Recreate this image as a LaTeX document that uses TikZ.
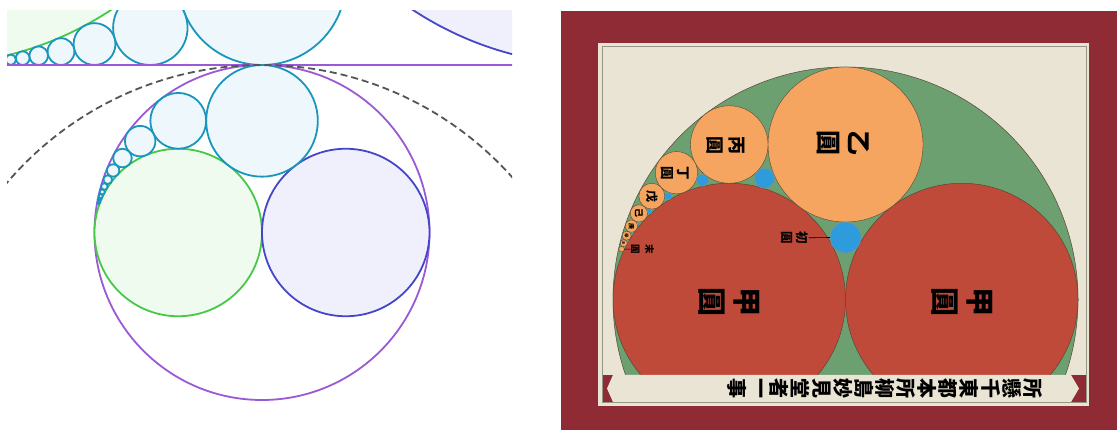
\documentclass[tikz,border=0pt]{standalone}
\usepackage{fontspec}
\newfontfamily\cjk{Noto Sans CJK JP}
\definecolor{lpur}{RGB}{155,89,214}
\definecolor{lgreen}{RGB}{72,200,72}
\definecolor{lgreenf}{RGB}{240,251,240}
\definecolor{lind}{RGB}{70,70,200}
\definecolor{lindf}{RGB}{240,240,252}
\definecolor{lteal}{RGB}{24,150,190}
\definecolor{ltealf}{RGB}{238,247,251}
\definecolor{ldash}{RGB}{85,85,85}
\definecolor{sframe}{RGB}{143,43,52}
\definecolor{sbeige}{RGB}{234,228,212}
\definecolor{sgrayl}{RGB}{150,150,135}
\definecolor{sgreen}{RGB}{108,160,112}
\definecolor{sred}{RGB}{191,74,58}
\definecolor{sorange}{RGB}{245,165,95}
\definecolor{sblue}{RGB}{46,155,220}
\definecolor{sedge}{RGB}{90,70,54}
\tikzset{
  pur/.style={draw=lpur, line width=1.8pt},
  grn/.style={draw=lgreen, fill=lgreenf, line width=1.8pt},
  ind/.style={draw=lind, fill=lindf, line width=1.8pt},
  chn/.style={draw=lteal, fill=ltealf, line width=1.8pt},
  invc/.style={draw=ldash, dash pattern=on 7pt off 4pt, line width=1.8pt},
  sg/.style={fill=sgreen, draw=sedge, line width=0.5pt},
  sr/.style={fill=sred, draw=sedge, line width=0.5pt},
  so/.style={fill=sorange, draw=sedge, line width=0.4pt},
  sb/.style={fill=sblue, draw=sedge!60, line width=0.3pt},
  cjl/.style 2 args={rotate=-90, align=center, inner sep=0pt, text=black,
    font={\cjk\bfseries\fontsize{#1}{#2}\selectfont}},
  leader/.style={draw=black, line width=0.6pt}
}
\begin{document}
\begin{tikzpicture}[x=1pt,y=1pt]
\useasboundingbox (0,0) rectangle (1117,-430);
\fill[white] (0,0) rectangle (1117,-430);
% ================= left panel =================
\begin{scope}
\clip (7,-11) rectangle (512,-425);
\begin{scope}[shift={(262pt,-232.5pt)}, x=167.5pt, y=167.5pt]
  \filldraw[grn] (-2,3) circle[radius=2];
  \filldraw[ind] (2,3) circle[radius=2];
  \foreach \n in {1,...,14}{
    \pgfmathsetmacro\cx{2*(1-\n)/(\n+1)}
    \pgfmathsetmacro\rr{2/((\n+1)*(\n+1))}
    \pgfmathsetmacro\cy{1+\rr}
    \filldraw[chn] (\cx,\cy) circle[radius=\rr];
  }
  \draw[pur] (-2,1) -- (2,1);
  \draw[pur] (0,0) circle[radius=1];
  \filldraw[grn] (-0.5,0) circle[radius=0.5];
  \filldraw[ind] (0.5,0) circle[radius=0.5];
  \foreach \n in {1,...,11}{
    \pgfmathsetmacro\rr{1/(\n*\n+2)}
    \pgfmathsetmacro\cx{(1-\n*\n)*\rr}
    \pgfmathsetmacro\cy{2*\n*\rr}
    \filldraw[chn] (\cx,\cy) circle[radius=\rr];
  }
  \draw[invc] (0,-1) circle[radius=2];
\end{scope}
\end{scope}
% ================= right panel =================
\fill[sframe] (561,-11) rectangle (1117,-430);
\fill[sbeige] (598.4,-42.7) rectangle (1089.3,-406);
\begin{scope}
\clip (602.6,-46.7) rectangle (1086.5,-402);
\begin{scope}[shift={(845.5pt,-299.5pt)}, x=232.5pt, y=232.5pt]
  \filldraw[sg] (0,0) circle[radius=1];
  \filldraw[sr] (-0.5,0) circle[radius=0.5];
  \filldraw[sr] (0.5,0) circle[radius=0.5];
  \foreach \n in {1,...,9}{
    \pgfmathsetmacro\rr{1/(\n*\n+2)}
    \pgfmathsetmacro\cx{(1-\n*\n)*\rr}
    \pgfmathsetmacro\cy{2*\n*\rr}
    \filldraw[so] (\cx,\cy) circle[radius=\rr];
  }
  \foreach \n in {0,...,8}{
    \pgfmathsetmacro\ff{2/(3.5+(\n+0.5)*(\n+0.5))}
    \pgfmathsetmacro\rr{0.125*\ff}
    \pgfmathsetmacro\cx{1.875*\ff-1}
    \pgfmathsetmacro\cy{(\n+0.5)*\ff}
    \filldraw[sb] (\cx,\cy) circle[radius=\rr];
  }
  \coordinate (c0w) at (-1/15,4/15);
  \coordinate (lastE) at (-79/83,18/83);
\end{scope}
\end{scope}
% banner
\fill[sframe] (602.6,-375) rectangle (1086.5,-402);
\fill[sbeige] (613,-375) -- (1071,-375) -- (1079,-388.5) -- (1071,-402)
  -- (613,-402) -- (607,-388.5) -- cycle;
\draw[sgrayl, line width=0.8pt] (602.6,-46.7) rectangle (1086.5,-402);
\foreach \c [count=\i] in {所,懸,千,東,都,本,所,柳,島,妙,見,堂,者,一,事}
  \node[cjl={20}{20}] (t\i) at ({1033-(\i-1)*21.15},-388.3) {\c};
% labels
\node[cjl={29}{35}] (la) at (729,-302) {甲\\圓};
\node[cjl={29}{35}] (lb) at (962,-302) {甲\\圓};
\node[cjl={25}{30}] (lc) at (843.5,-143) {乙\\圓};
\node[cjl={18}{22}] (ld) at (726,-146) {丙\\圓};
\node[cjl={13.5}{16}] (le) at (675,-173) {丁\\圓};
\node[cjl={12}{12}] (lf) at (651.7,-196.2) {戊};
\node[cjl={9}{9}] (lg) at (638.8,-213.4) {己};
\node[cjl={6}{6}] (lh) at (631.4,-226.1) {庚};
\node[cjl={4.5}{4.5}] (li) at (626.7,-235.7) {辛};
\node[cjl={3.2}{3.2}] (lj) at (623.6,-243.1) {壬};
\node[cjl={12.5}{15}] (lk) at (795,-238) {初\\圓};
\node[cjl={9.5}{14}] (ll) at (642.5,-249) {末\\圓};
\draw[leader] (lk) -- (c0w);
\draw[leader] (ll) -- (lastE);
\end{tikzpicture}
\end{document}
